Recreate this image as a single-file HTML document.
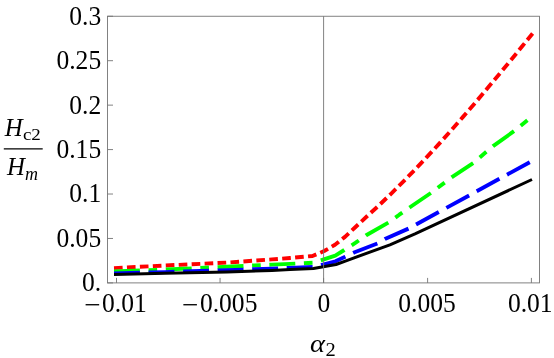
<!DOCTYPE html>
<html><head><meta charset="utf-8"><title>Hc2/Hm vs alpha2</title>
<style>
html,body{margin:0;padding:0;background:#fff;}
svg{display:block;}
text{font-family:"Liberation Serif","DejaVu Serif",serif;fill:#000;}
.t{font-size:27.5px;}
.s{font-size:18px;}
.h{font-size:24.8px;}
.i{font-style:italic;}
</style></head><body>
<svg width="554" height="358" viewBox="0 0 554 358">
<rect x="0" y="0" width="554" height="358" fill="#fff"/>
<polyline points="114.0,268.1 165.0,265.5 227.0,262.6 272.0,259.4 290.0,258.0 312.5,256.0 324.2,251.0 335.0,244.8 345.0,236.9 355.0,227.5 367.0,216.3 379.0,205.3 391.0,193.8 403.0,181.9 415.0,169.6 427.0,156.9 439.0,143.9 451.0,130.5 463.0,116.9 475.0,103.0 487.0,88.8 499.0,74.5 511.0,60.0 523.0,45.3 532.6,33.5" fill="none" stroke="#ff0000" stroke-width="3.9" stroke-dasharray="8.64 4.32" stroke-linejoin="round"/>
<polyline points="114.0,271.5 165.0,269.6 227.0,266.7 272.0,264.6 290.0,263.9 313.4,262.7 335.3,255.6 344.3,250.0 355.7,242.7 366.2,235.2 389.1,222.2 399.3,214.7 410.3,207.0 431.0,192.9 452.3,176.9 473.2,163.0 493.1,146.1 514.7,130.7 532.0,116.5" fill="none" stroke="#00ff00" stroke-width="3.9" stroke-dasharray="25.92 8.64 8.64 8.64" stroke-linejoin="round"/>
<polyline points="114.0,273.4 165.0,272.1 227.0,270.2 272.0,268.6 290.0,267.9 313.4,267.0 335.5,261.3 345.2,256.8 354.0,252.5 377.6,243.4 384.9,239.0 408.5,228.6 532.0,161.0" fill="none" stroke="#0000ff" stroke-width="3.9" stroke-dasharray="25.92 8.64" stroke-linejoin="round"/>
<polyline points="114.0,274.6 165.0,273.3 227.0,271.9 272.0,270.4 290.0,269.6 313.4,268.5 336.0,264.5 346.0,260.8 389.9,244.8 415.0,233.9 532.0,179.5" fill="none" stroke="#000" stroke-width="3.0" stroke-linejoin="round"/>
<g stroke="#747474" stroke-width="0.9" fill="none">
<rect x="107.5" y="16.25" width="432" height="266.65"/>
<line x1="323.6" y1="16.25" x2="323.6" y2="282.9"/>
<line x1="107.5" y1="282.90" x2="113" y2="282.90"/>
<line x1="107.5" y1="238.46" x2="113" y2="238.46"/>
<line x1="107.5" y1="194.02" x2="113" y2="194.02"/>
<line x1="107.5" y1="149.57" x2="113" y2="149.57"/>
<line x1="107.5" y1="105.13" x2="113" y2="105.13"/>
<line x1="107.5" y1="60.69" x2="113" y2="60.69"/>
<line x1="107.5" y1="16.25" x2="113" y2="16.25"/>
<line x1="116.5" y1="282.9" x2="116.5" y2="277.9"/>
<line x1="220.05" y1="282.9" x2="220.05" y2="277.9"/>
<line x1="323.6" y1="282.9" x2="323.6" y2="277.9"/>
<line x1="427.6" y1="282.9" x2="427.6" y2="277.9"/>
<line x1="531.4" y1="282.9" x2="531.4" y2="277.9"/>
</g>
<text class="t" transform="translate(101.2,291.2) scale(0.93,1)" text-anchor="end">0.</text>
<text class="t" transform="translate(101.2,246.8) scale(0.93,1)" text-anchor="end">0.05</text>
<text class="t" transform="translate(101.2,202.4) scale(0.93,1)" text-anchor="end">0.1</text>
<text class="t" transform="translate(101.2,158.0) scale(0.93,1)" text-anchor="end">0.15</text>
<text class="t" transform="translate(101.2,113.6) scale(0.93,1)" text-anchor="end">0.2</text>
<text class="t" transform="translate(101.2,69.2) scale(0.93,1)" text-anchor="end">0.25</text>
<text class="t" transform="translate(101.2,24.8) scale(0.93,1)" text-anchor="end">0.3</text>
<text class="t" transform="translate(102.0,311.9) scale(0.93,1)">0.01</text>
<text class="t" transform="translate(199.9,311.9) scale(0.93,1)">0.005</text>
<text class="t" transform="translate(317.6,311.9) scale(0.93,1)">0</text>
<text class="t" transform="translate(398.2,311.9) scale(0.93,1)">0.005</text>
<text class="t" transform="translate(507.9,311.9) scale(0.93,1)">0.01</text>
<text class="t" transform="translate(84.2,313.8) scale(1.06,1)">−</text>
<text class="t" transform="translate(182.0,313.8) scale(1.06,1)">−</text>
<text class="h i" x="4.7" y="136.3">H</text>
<text class="s" style="font-size:17px" transform="translate(22.9,140.1) scale(1.12,1)">c2</text>
<line x1="3.8" y1="148.9" x2="42.7" y2="148.9" stroke="#000" stroke-width="1.4"/>
<text class="h i" x="6.9" y="175.3">H</text>
<text class="s i" x="25.0" y="179.5">m</text>
<text class="h i" transform="translate(310.0,352.2) scale(1.15,1)">α</text>
<text class="s" transform="translate(325.5,355.8) scale(1.14,1)">2</text>
</svg></body></html>
